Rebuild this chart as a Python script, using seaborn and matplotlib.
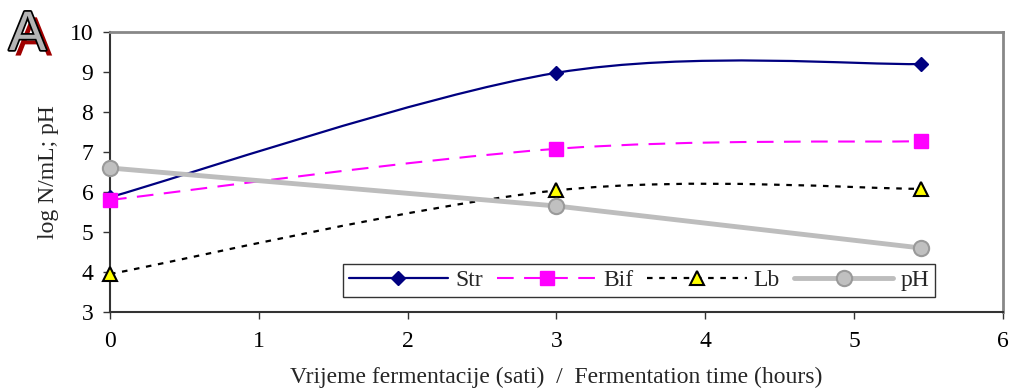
import numpy as np
import pandas as pd
import matplotlib
matplotlib.use("Agg")
import matplotlib.pyplot as plt
import seaborn as sns
from matplotlib.path import Path
from matplotlib.patches import PathPatch
from matplotlib.lines import Line2D
import matplotlib.patheffects as pe

# ---- data ----
time_h = [0.0, 3.0, 5.45]
str_vals = [5.87, 8.98, 9.20]
bif_vals = [5.80, 7.08, 7.27]
lb_vals = [3.95, 6.04, 6.08]
ph_vals = [6.60, 5.65, 4.60]
series_names = ["Str", "Bif", "Lb", "pH"]
x_ticks = [0, 1, 2, 3, 4, 5, 6]
y_ticks = [3, 4, 5, 6, 7, 8, 9, 10]

sns.set_theme(style="white")
plt.rcParams['font.family'] = ['Liberation Serif', 'DejaVu Serif']

fig = plt.figure(figsize=(10.12, 3.88), dpi=100)
ax = fig.add_axes([110/1012, (388-312)/388, (1003-110)/1012, (312-32)/388])

def smooth_path(xs, ys):
    pts = np.column_stack([xs, ys])
    n = len(pts)
    verts = [pts[0]]
    codes = [Path.MOVETO]
    for i in range(n - 1):
        p0 = pts[i - 1] if i > 0 else pts[i]
        p1 = pts[i]
        p2 = pts[i + 1]
        p3 = pts[i + 2] if i + 2 < n else pts[i + 1]
        c1 = p1 + (p2 - p0) / 6.0
        c2 = p2 - (p3 - p1) / 6.0
        verts += [c1, c2, p2]
        codes += [Path.CURVE4] * 3
    return Path(verts, codes)

styles = {
    "Str": dict(color="#000080", ls="-", lw=1.6, marker="D", mfc="#000080", mec="#000080", ms=7.5, mew=1),
    "Bif": dict(color="#FF00FF", ls=(0, (8, 5)), lw=1.5, marker="s", mfc="#FF00FF", mec="#FF00FF", ms=10.5, mew=1),
    "Lb": dict(color="black", ls=(0, (2.5, 3)), lw=1.6, marker="^", mfc="#FFFF00", mec="black", ms=9.5, mew=1.5),
    "pH": dict(color="#BDBDBD", ls="-", lw=3.5, marker="o", mfc="#C0C0C0", mec="#9A9A9A", ms=11, mew=1.5),
}

df = pd.DataFrame({"time": time_h * 4,
                   "value": str_vals + bif_vals + lb_vals + ph_vals,
                   "series": sum([[s] * len(time_h) for s in series_names], [])})

for name, vals in zip(["Str", "Bif", "Lb"], [str_vals, bif_vals, lb_vals]):
    st = styles[name]
    patch = PathPatch(smooth_path(time_h, vals), facecolor="none", edgecolor=st["color"],
                      lw=st["lw"], linestyle=st["ls"], zorder=2, clip_on=False)
    ax.add_patch(patch)

# pH straight line
sub = df[df.series == "pH"]
sns.lineplot(data=sub, x="time", y="value", ax=ax, color=styles["pH"]["color"],
             lw=styles["pH"]["lw"], legend=False, zorder=2)

for name in series_names:
    st = styles[name]
    sub = df[df.series == name]
    ax.plot(sub["time"], sub["value"], ls="none", marker=st["marker"], ms=st["ms"],
            mfc=st["mfc"], mec=st["mec"], mew=st["mew"], zorder=4, clip_on=False)

ax.set_xlim(0, 6)
ax.set_ylim(3, 10)
ax.set_xticks(x_ticks)
ax.set_yticks(y_ticks)
ax.tick_params(axis="both", direction="out", length=5, width=1, color="#333333",
               labelsize=17, colors="black")
ax.tick_params(axis="x", pad=9)
ax.tick_params(axis="y", pad=7)
ax.xaxis.set_ticks_position("bottom")
ax.yaxis.set_ticks_position("left")
for s in ["left", "bottom"]:
    ax.spines[s].set_color("#333333")
    ax.spines[s].set_linewidth(1.5)
for s in ["top", "right"]:
    ax.spines[s].set_color("#888888")
    ax.spines[s].set_linewidth(2)
ax.grid(False)

ax.set_xlabel("Vrijeme fermentacije (sati)  /  Fermentation time (hours)", fontsize=17, labelpad=10)
ax.set_ylabel("log N/mL; pH", fontsize=17, labelpad=8)

handles = []
for name in series_names:
    st = styles[name]
    handles.append(Line2D([0], [0], color=st["color"], ls=st["ls"], lw=st["lw"], marker=st["marker"],
                          ms=st["ms"], mfc=st["mfc"], mec=st["mec"], mew=st["mew"]))
leg = ax.legend(handles, series_names, ncol=4, loc="lower left",
                bbox_to_anchor=((343-110)/893, (312-297)/280, (935-343)/893, (297-258)/280),
                mode="expand", frameon=True, fancybox=False, edgecolor="black",
                fontsize=17, handlelength=4.2, handletextpad=0.3, columnspacing=1.0,
                borderpad=0.25, borderaxespad=0)
leg.get_frame().set_linewidth(1)

# "A" label (gray outlined letter with red shadow)
fig.text(9/1012, 1 - 36/388, "A", fontsize=40, color="#B4B4B4", va="center", ha="left",
         fontfamily="Liberation Sans",
         path_effects=[pe.SimplePatchShadow(offset=(4.5, -4), shadow_rgbFace="#A00000", alpha=1.0),
                       pe.withStroke(linewidth=2.5, foreground="black")])

fig.savefig("out.png", dpi=100)
